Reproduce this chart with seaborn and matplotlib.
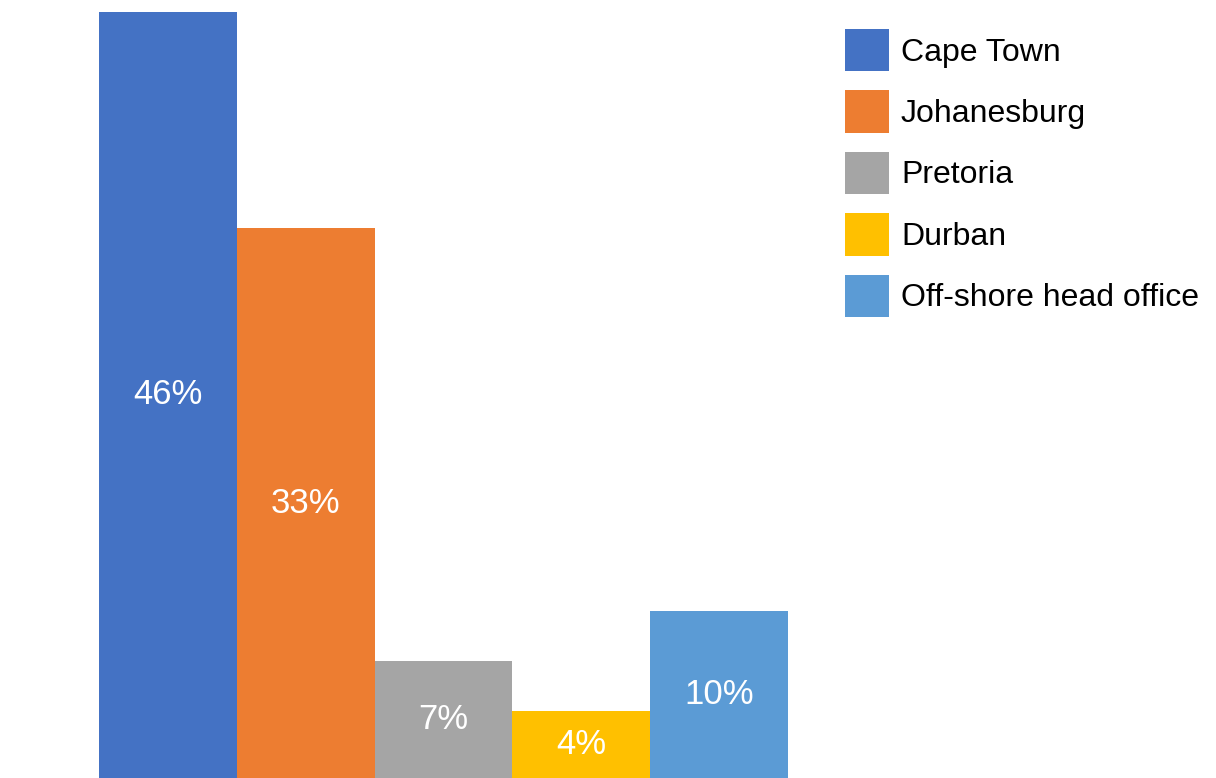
import matplotlib
matplotlib.use("Agg")
import matplotlib.pyplot as plt
import seaborn as sns
import pandas as pd

cities = ["Cape Town", "Johanesburg", "Pretoria", "Durban", "Off-shore head office"]
shares = [46, 33, 7, 4, 10]
colors = ["#4472C4", "#ED7D31", "#A5A5A5", "#FFC000", "#5B9BD5"]

sns.set_theme(style="white")
plt.rcParams["font.family"] = ["Liberation Sans Narrow", "Liberation Sans", "DejaVu Sans"]

df = pd.DataFrame({"city": cities, "share": shares})

fig = plt.figure(figsize=(12.16, 7.78), dpi=100)
ax = fig.add_axes([99 / 1216, 0, (788 - 99) / 1216, 1])

sns.barplot(data=df, x="city", y="share", hue="city", palette=colors,
            width=1.0, dodge=False, legend=False, ax=ax, saturation=1,
            linewidth=0)

ax.set_xlim(-0.5, len(cities) - 0.5)
ax.set_ylim(0, 46 * 778 / 766)
ax.axis("off")

for i, v in enumerate(shares):
    ax.text(i, v / 2, f"{v}%", ha="center", va="center",
            color="white", fontsize=25)

handles = [plt.Rectangle((0, 0), 1, 1, color=c, linewidth=0) for c in colors]
fs = 23
fig.legend(handles, cities, loc="upper left", bbox_to_anchor=(845 / 1216, 1 - 29 / 778),
           frameon=False, fontsize=fs, borderpad=0, borderaxespad=0,
           handlelength=1.38, handleheight=1.66, handletextpad=0.37,
           labelspacing=0.6, labelcolor="black")

fig.savefig("out.png", dpi=100)
